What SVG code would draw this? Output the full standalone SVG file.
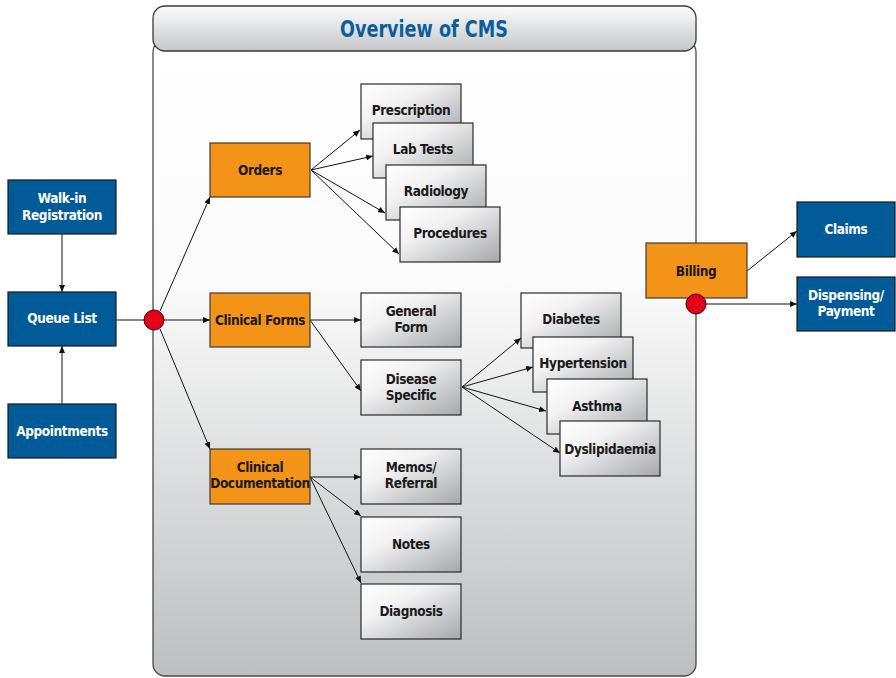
<svg xmlns="http://www.w3.org/2000/svg" width="896" height="678" viewBox="0 0 896 678">
<defs>
<linearGradient id="gTitle" x1="0" y1="0" x2="0" y2="1"><stop offset="0" stop-color="#fdfdfd"/><stop offset="1" stop-color="#c4c6c8"/></linearGradient>
<linearGradient id="gBody" x1="0" y1="0" x2="0" y2="1"><stop offset="0" stop-color="#ffffff"/><stop offset="0.38" stop-color="#fbfbfb"/><stop offset="1" stop-color="#bcbec0"/></linearGradient>
<linearGradient id="gBox" x1="0" y1="0" x2="1" y2="1"><stop offset="0" stop-color="#ffffff"/><stop offset="0.35" stop-color="#f2f2f3"/><stop offset="1" stop-color="#a5a7a9"/></linearGradient>
<marker id="ah" markerWidth="8" markerHeight="6" refX="7" refY="3" orient="auto" markerUnits="userSpaceOnUse"><path d="M0,0 L7,3 L0,6 z" fill="#111"/></marker>
</defs>
<style>
.blue{fill:#005b98;stroke:#1a1a1a;stroke-width:1.2}
.orange{fill:#f39419;stroke:#3a3a3a;stroke-width:1.2}
.grey{fill:url(#gBox);stroke:#2a2a2a;stroke-width:1.2}
.t{font-family:"DejaVu Sans Condensed","Liberation Sans Narrow","Liberation Sans",sans-serif;font-weight:bold;font-size:13.5px;letter-spacing:-0.4px;text-anchor:middle}
.tw{fill:#ffffff}
.tk{fill:#1a1a1a}
.c{stroke:#111;stroke-width:1;fill:none}
.ca{stroke:#111;stroke-width:1;fill:none;marker-end:url(#ah)}
.dot{fill:#e2001a;stroke:#3a0000;stroke-width:1}
</style>
<g id="container">
<rect x="153" y="40" width="543" height="636" rx="12" fill="url(#gBody)" stroke="#4a4a4a" stroke-width="1.3"/>
<rect x="153" y="6" width="543" height="45" rx="12" fill="url(#gTitle)" stroke="#3a3a3a" stroke-width="1.3"/>
<text x="424" y="37" font-family="DejaVu Sans Condensed,Liberation Sans Narrow,Liberation Sans,sans-serif" font-weight="bold" font-size="23" fill="#0b5e9c" text-anchor="middle" textLength="168" lengthAdjust="spacingAndGlyphs">Overview of CMS</text>
</g>
<g id="connectors">
<line class="ca" x1="62" y1="234" x2="62" y2="292"/>
<line class="ca" x1="62" y1="404" x2="62" y2="346"/>
<line class="c" x1="116" y1="320" x2="144" y2="320"/>
<line class="ca" x1="160" y1="311" x2="210" y2="197"/>
<line class="ca" x1="164" y1="320" x2="210" y2="320"/>
<line class="ca" x1="160" y1="329" x2="210" y2="449"/>
<line class="ca" x1="311" y1="170" x2="360" y2="130"/>
<line class="ca" x1="311" y1="170" x2="373" y2="156"/>
<line class="ca" x1="311" y1="170" x2="385" y2="213"/>
<line class="ca" x1="311" y1="170" x2="399" y2="254"/>
<line class="ca" x1="310" y1="320" x2="361" y2="320"/>
<line class="ca" x1="310" y1="320" x2="361" y2="391"/>
<line class="ca" x1="462" y1="387" x2="521" y2="338"/>
<line class="ca" x1="462" y1="387" x2="533" y2="367"/>
<line class="ca" x1="462" y1="387" x2="546" y2="411"/>
<line class="ca" x1="462" y1="387" x2="560" y2="453"/>
<line class="ca" x1="310" y1="477" x2="361" y2="477"/>
<line class="ca" x1="310" y1="477" x2="361" y2="516"/>
<line class="ca" x1="310" y1="477" x2="361" y2="583"/>
<line class="ca" x1="747" y1="271" x2="797" y2="231"/>
<line class="ca" x1="706" y1="304" x2="797" y2="304"/>
</g>
<g id="walkin"><rect class="blue" x="8" y="180" width="108" height="54"/><text class="t tw" x="62" y="203">Walk-in</text><text class="t tw" x="62" y="220">Registration</text></g>
<g id="queue"><rect class="blue" x="8" y="292" width="108" height="54"/><text class="t tw" x="62" y="323">Queue List</text></g>
<g id="appointments"><rect class="blue" x="8" y="404" width="108" height="54"/><text class="t tw" x="62" y="436">Appointments</text></g>
<g id="split1"><circle class="dot" cx="154" cy="320" r="10"/></g>
<g id="orders"><rect class="orange" x="210" y="143" width="100" height="54"/><text class="t tk" x="260" y="175">Orders</text></g>
<g id="clinicalforms"><rect class="orange" x="210" y="293" width="100" height="54"/><text class="t tk" x="260" y="325">Clinical Forms</text></g>
<g id="clinicaldoc"><rect class="orange" x="210" y="449" width="100" height="55"/><text class="t tk" x="260" y="472">Clinical</text><text class="t tk" x="260" y="488">Documentation</text></g>
<g id="prescription"><rect class="grey" x="361" y="84" width="100" height="55"/><text class="t tk" x="411" y="115">Prescription</text></g>
<g id="labtests"><rect class="grey" x="373" y="123" width="100" height="55"/><text class="t tk" x="423" y="154">Lab Tests</text></g>
<g id="radiology"><rect class="grey" x="386" y="165" width="100" height="55"/><text class="t tk" x="436" y="196">Radiology</text></g>
<g id="procedures"><rect class="grey" x="400" y="207" width="100" height="55"/><text class="t tk" x="450" y="238">Procedures</text></g>
<g id="generalform"><rect class="grey" x="361" y="293" width="100" height="54"/><text class="t tk" x="411" y="316">General</text><text class="t tk" x="411" y="332">Form</text></g>
<g id="diseasespecific"><rect class="grey" x="361" y="360" width="100" height="55"/><text class="t tk" x="411" y="384">Disease</text><text class="t tk" x="411" y="400">Specific</text></g>
<g id="diabetes"><rect class="grey" x="521" y="293" width="100" height="55"/><text class="t tk" x="571" y="324">Diabetes</text></g>
<g id="hypertension"><rect class="grey" x="533" y="337" width="100" height="55"/><text class="t tk" x="583" y="368">Hypertension</text></g>
<g id="asthma"><rect class="grey" x="547" y="379" width="100" height="55"/><text class="t tk" x="597" y="411">Asthma</text></g>
<g id="dyslipidaemia"><rect class="grey" x="560" y="421" width="100" height="55"/><text class="t tk" x="610" y="454">Dyslipidaemia</text></g>
<g id="memos"><rect class="grey" x="361" y="449" width="100" height="55"/><text class="t tk" x="411" y="472">Memos/</text><text class="t tk" x="411" y="488">Referral</text></g>
<g id="notes"><rect class="grey" x="361" y="517" width="100" height="55"/><text class="t tk" x="411" y="549">Notes</text></g>
<g id="diagnosis"><rect class="grey" x="361" y="584" width="100" height="55"/><text class="t tk" x="411" y="616">Diagnosis</text></g>
<g id="billing"><rect class="orange" x="646" y="243" width="101" height="55"/><text class="t tk" x="696" y="276">Billing</text></g>
<g id="split2"><circle class="dot" cx="696" cy="304" r="10"/></g>
<g id="claims"><rect class="blue" x="797" y="202" width="98" height="55"/><text class="t tw" x="846" y="234">Claims</text></g>
<g id="dispensing"><rect class="blue" x="797" y="277" width="98" height="54"/><text class="t tw" x="846" y="300">Dispensing/</text><text class="t tw" x="846" y="316">Payment</text></g>
</svg>
